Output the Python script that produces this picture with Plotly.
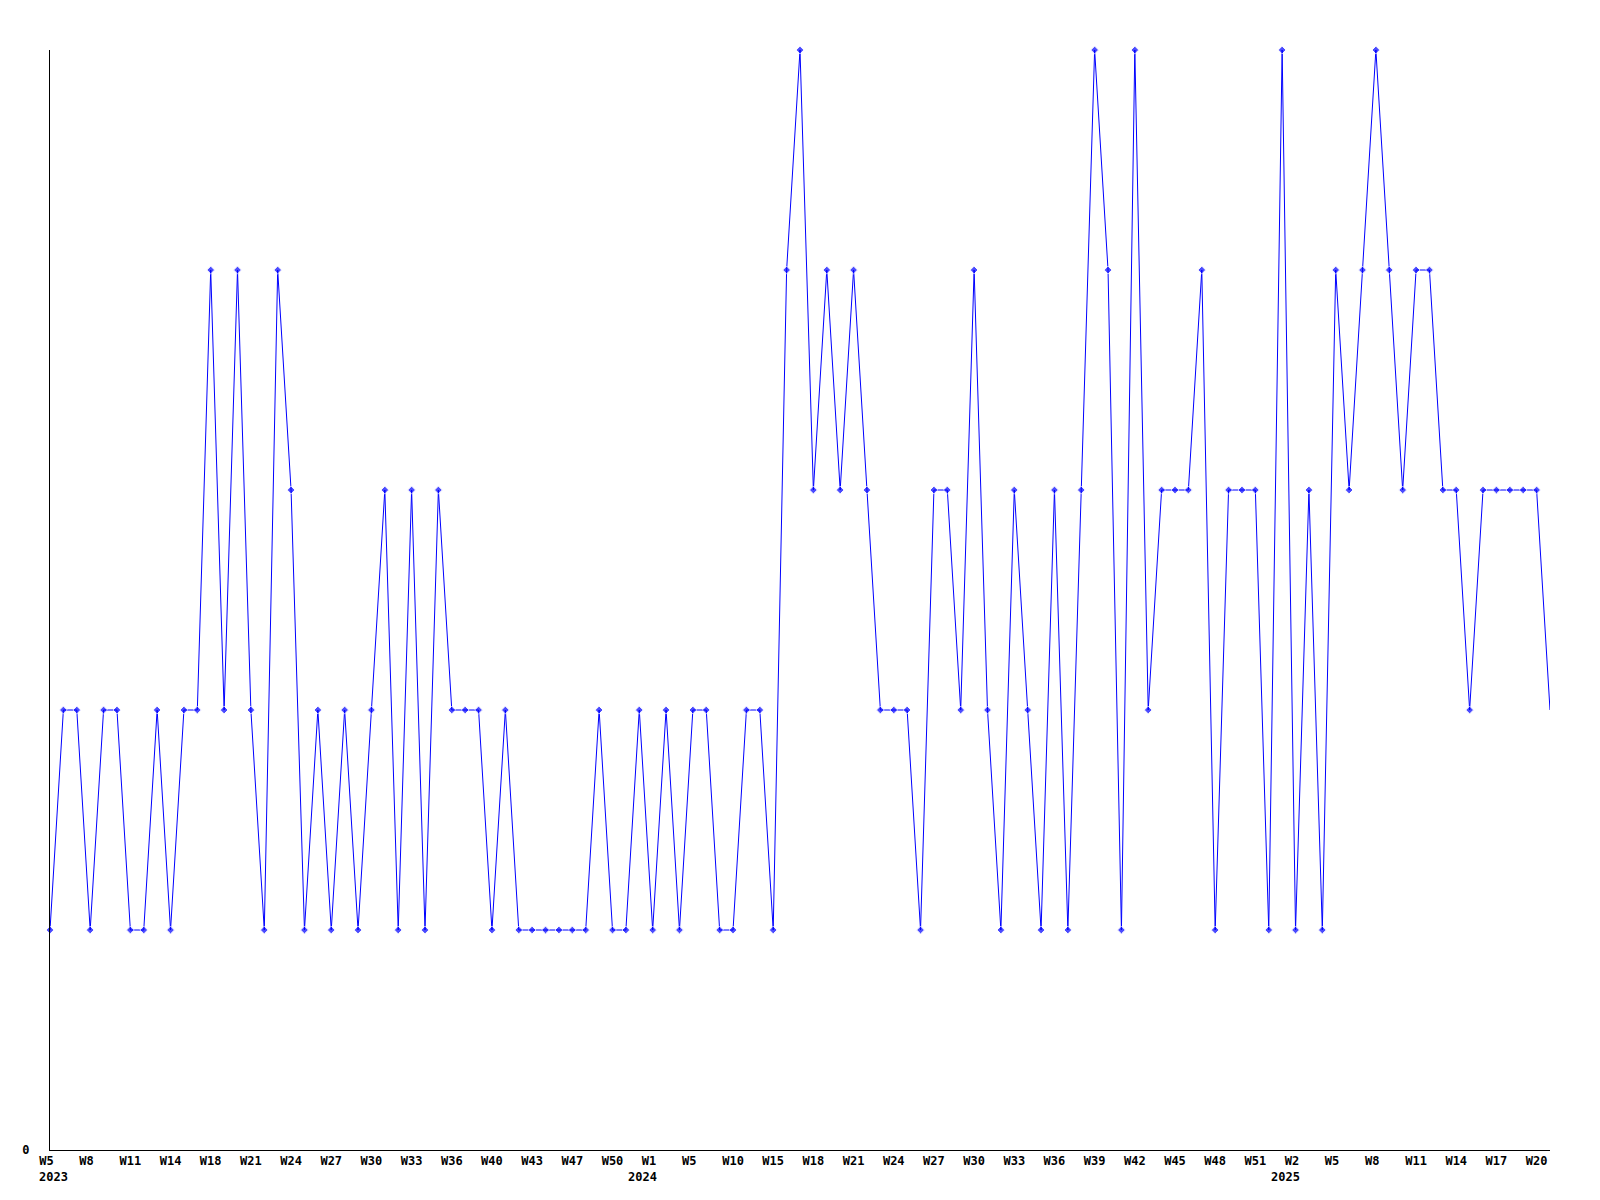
import plotly.graph_objects as go

# Values (one point per period, 2023 W5 .. 2025 W21)
values = [
    1, 2, 2, 1, 2, 2, 1, 1, 2, 1, 2, 2,
    4, 2, 4, 2, 1, 4, 3, 1, 2, 1, 2, 1,
    2, 3, 1, 3, 1, 3, 2, 2, 2, 1, 2, 1,
    1, 1, 1, 1, 1, 2, 1, 1, 2, 1, 2, 1,
    2, 2, 1, 1, 2, 2, 1, 4, 5, 3, 4, 3,
    4, 3, 2, 2, 2, 1, 3, 3, 2, 4, 2, 1,
    3, 2, 1, 3, 1, 3, 5, 4, 1, 5, 2, 3,
    3, 3, 4, 1, 3, 3, 3, 1, 5, 1, 3, 1,
    4, 3, 4, 5, 4, 3, 4, 4, 3, 3, 2, 3,
    3, 3, 3, 3, 2,
]

week_labels = [
    "W5", "W8", "W11", "W14", "W18", "W21", "W24", "W27", "W30", "W33", "W36", "W40", "W43", "W47", "W50",
    "W1", "W5", "W10", "W15", "W18", "W21", "W24", "W27", "W30", "W33", "W36", "W39", "W42", "W45", "W48", "W51",
    "W2", "W5", "W8", "W11", "W14", "W17", "W20",
]
year_labels = ["2023", "2024", "2025"]
year_label_at = [0, 15, 31]  # index in week_labels where each year starts
label_step = 3                # one week label every 3 points

x = list(range(len(values)))
tickvals = [i * label_step for i in range(len(week_labels))]
ticktext = [t + "\u00a0" * (3 - len(t)) for t in week_labels]

FONT = "DejaVu Sans Mono"
marker_sizes = [6] * (len(values) - 1) + [0]

fig = go.Figure()
fig.add_trace(go.Scatter(
    x=x, y=values, mode="lines+markers",
    line=dict(color="#0000ff", width=1),
    marker=dict(symbol="diamond", size=marker_sizes, color="#0000ff"),
    cliponaxis=False, showlegend=False, hoverinfo="skip",
))

for lbl, li in zip(year_labels, year_label_at):
    first = li == 0
    fig.add_annotation(
        x=tickvals[li], y=0, xref="x", yref="paper",
        text=lbl, showarrow=False,
        xanchor="left" if first else "center", yanchor="middle",
        xshift=-13 if first else -10, yshift=-27,
        font=dict(family=FONT, size=12, color="black", weight="bold"),
    )

fig.update_layout(
    width=1584, height=1184,
    margin=dict(l=42, r=42, t=42, b=42, autoexpand=False),
    paper_bgcolor="white", plot_bgcolor="white",
    font=dict(family=FONT, size=12, color="black", weight="bold"),
)
fig.update_xaxes(
    range=[0, len(values) - 1], showgrid=False, zeroline=False,
    showline=True, linecolor="black", linewidth=1,
    tickmode="array", tickvals=tickvals, ticktext=ticktext,
    ticks="", tickangle=0, ticklabelstandoff=0,
    tickfont=dict(family=FONT, size=12, color="black", weight="bold"),
)
fig.update_yaxes(
    range=[0, 5], showgrid=False, zeroline=False,
    showline=True, linecolor="black", linewidth=1,
    tickmode="array", tickvals=[0], ticktext=["0"],
    ticks="", ticklabelstandoff=17,
    tickfont=dict(family=FONT, size=12, color="black", weight="bold"),
)

fig.write_html("out.html")
